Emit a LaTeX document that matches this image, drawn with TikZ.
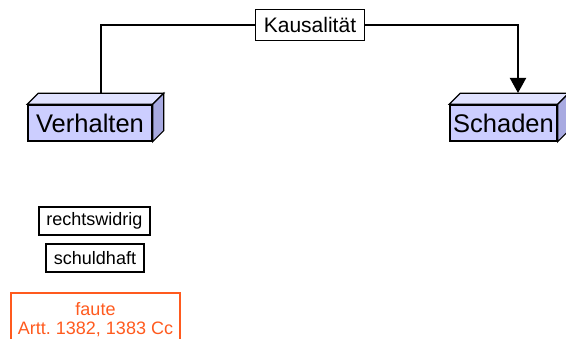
\documentclass[tikz,border=0pt]{standalone}
\usepackage{fontspec}
\setmainfont{Liberation Sans}
\usetikzlibrary{arrows.meta}

\definecolor{frontface}{RGB}{204,206,255}
\definecolor{topface}{RGB}{224,226,255}
\definecolor{sideface}{RGB}{168,170,225}
\definecolor{fauteorange}{RGB}{255,90,30}

\begin{document}
\begin{tikzpicture}[x=1pt, y=1pt, line width=2pt, line join=miter,
        every node/.append style={font=\fontsize{18}{20}\selectfont, inner sep=0pt}]
      \tikzstyle{block} = [draw, line width=1.4pt, fill=frontface, minimum height=36pt,
                           font=\fontsize{25.5}{28}\selectfont]
      \tikzstyle{label} = [draw, line width=1.6pt, fill=white, minimum height=28pt]
      \useasboundingbox (0,0) rectangle (566,339);
      % 3D blocks
      \node (Verhalten) [block, minimum width=124pt] at (90,216) {Verhalten};
      \node (Schaden) [block, minimum width=107pt] at (503.5,216) {Schaden};
      \foreach \b in {Verhalten,Schaden} {
        \filldraw[line width=1.2pt, fill=topface] (\b.north west) -- ++(11,11)
          -- ([shift={(11,11)}]\b.north east) -- (\b.north east) -- cycle;
        \filldraw[line width=1.2pt, fill=sideface] (\b.north east) -- ++(11,11)
          -- ([shift={(11,11)}]\b.south east) -- (\b.south east) -- cycle;
      }
      % causal link
      \node (Kausalitaet) [label, minimum width=109pt, minimum height=31pt,
                           font=\fontsize{21}{24}\selectfont] at (310,314) {Kausalität};
      \coordinate (VTop) at (100.5,245);
      \coordinate (STop) at (518,246);
      \draw (VTop) |- (Kausalitaet.west);
      \draw[-{Triangle[length=15pt,width=16pt]}] (Kausalitaet.east) -| (STop);
      % conditions
      \node (rechtswidrig) [label, minimum width=111pt] at (94.5,118) {rechtswidrig};
      \node (schuldhaft) [label, minimum width=98pt] at (95,81) {schuldhaft};
      \node (faute) [draw=fauteorange, line width=1.8pt, text=fauteorange, align=center,
                     minimum width=169pt, minimum height=54pt] at (95.5,19)
        {faute\\[-1pt]Artt.~1382, 1383 Cc};
    \end{tikzpicture}
\end{document}
